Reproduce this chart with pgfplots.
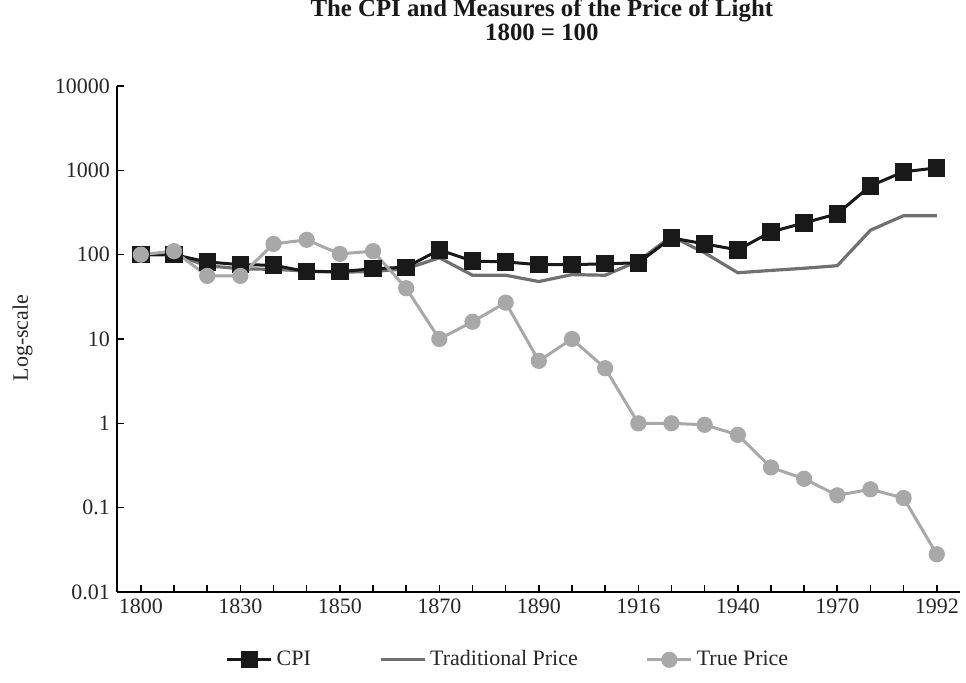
\documentclass[border=0pt]{standalone}
\usepackage{fontspec}
\setmainfont{Liberation Serif}
\usepackage{pgfplots}
\pgfplotsset{compat=1.18}

\definecolor{cpicol}{gray}{0.1}
\definecolor{tradcol}{gray}{0.44}
\definecolor{truecol}{gray}{0.66}

\tikzset{
  cpistyle/.style={color=cpicol, line width=1.5pt, mark=square*, mark size=3.6pt, mark options={solid}},
  tradstyle/.style={color=tradcol, line width=1.6pt, no markers},
  truestyle/.style={color=truecol, line width=1.5pt, mark=*, mark size=3.3pt, mark options={solid}},
}

\begin{document}
\begin{tikzpicture}
% keep the page at the reference's proportions (1px = 0.5pt)
\useasboundingbox (-58.5pt,-45.5pt) rectangle (424.5pt,296pt);
\begin{axis}[
    at={(0,0)}, anchor=south west,
    scale only axis,
    width=421.5pt, height=253pt,
    ymode=log,
    ymin=0.01, ymax=10000,
    xmin=-0.72, xmax=24.7,
    axis x line*=bottom, axis y line*=left,
    axis line style={line width=0.8pt, black},
    tick align=inside,
    major tick length=3.5pt,
    tick style={line width=0.8pt, black},
    yminorticks=false,
    xtick={0,...,24},
    xticklabels={1800,{},{},1830,{},{},1850,{},{},1870,{},{},1890,{},{},1916,{},{},1940,{},{},1970,{},{},1992},
    ytick={0.01,0.1,1,10,100,1000,10000},
    yticklabels={0.01,0.1,1,10,100,1000,10000},
    /pgf/number format/assume math mode=true,
    tick label style={font=\fontsize{11}{13}\selectfont, text=black!85},
    ylabel={Log-scale},
    ylabel style={at={(axis description cs:-0.112,0.502)}, anchor=center, font=\fontsize{11}{13}\selectfont, text=black!85},
    title={The CPI and Measures of the Price of Light\\1800 = 100},
    title style={at={(axis description cs:0.504,1)}, anchor=center, yshift=27pt,
                 align=center, font=\bfseries\fontsize{12.4}{9}\selectfont, text=black!90},
    legend columns=3,
    legend style={at={(axis description cs:0.465,-0.134)}, anchor=center, draw=none,
                  font=\fontsize{11}{13}\selectfont, text=black!85,
                  /tikz/every even column/.append style={column sep=32pt}},
    legend image code/.code={\draw[#1, mark repeat=2, mark phase=2] plot coordinates {(0pt,0pt) (11pt,0pt) (22pt,0pt)};},
]
\addlegendimage{cpistyle}
\addlegendentry{CPI}
\addlegendimage{tradstyle}
\addlegendentry{Traditional Price}
\addlegendimage{truestyle}
\addlegendentry{True Price}

% Traditional Price
\addplot[tradstyle, forget plot] coordinates {
  (0,100) (1,100) (2,74) (3,68) (4,67) (5,64) (6,62) (7,63) (8,68) (9,92)
  (10,57) (11,57) (12,48) (13,58) (14,57) (15,84) (16,165) (17,105) (18,61)
  (19,65) (20,69) (21,74) (22,195) (23,290) (24,290)
};
% CPI
\addplot[cpistyle, forget plot] coordinates {
  (0,100) (1,100) (2,82) (3,76) (4,75) (5,63) (6,63) (7,68) (8,71) (9,114)
  (10,84) (11,82) (12,76) (13,76) (14,78) (15,80) (16,158) (17,134) (18,114)
  (19,186) (20,238) (21,305) (22,655) (23,960) (24,1070)
};
% True Price
\addplot[truestyle, forget plot] coordinates {
  (0,100) (1,110) (2,56) (3,56) (4,134) (5,150) (6,102) (7,110) (8,40) (9,10)
  (10,16) (11,27) (12,5.5) (13,10) (14,4.5) (15,1.0) (16,1.0) (17,0.96) (18,0.73)
  (19,0.30) (20,0.22) (21,0.14) (22,0.165) (23,0.13) (24,0.028)
};
\end{axis}
\end{tikzpicture}
\end{document}
